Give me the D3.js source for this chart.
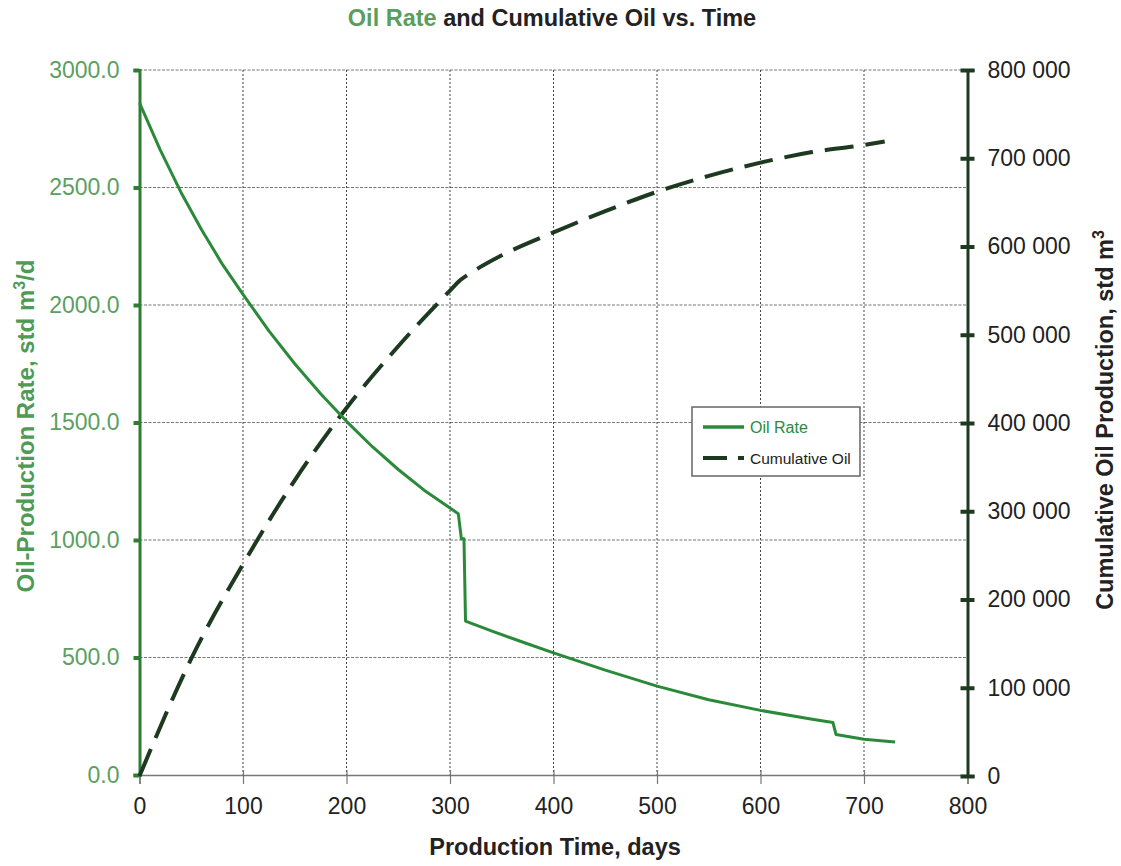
<!DOCTYPE html>
<html>
<head>
<meta charset="utf-8">
<script src="https://cdn.jsdelivr.net/npm/d3@7"></script>
<style>
  body { margin: 0; background: #fff; }
  svg text { font-family: "Liberation Sans", Arial, Helvetica, sans-serif; }
</style>
</head>
<body>
<div id="chart"></div>
<script>
// data
var rateDays = [0, 20, 40, 60, 80, 100, 125, 150, 175, 200, 225, 250, 275, 300, 308, 311, 313.5, 315, 340, 370, 400, 450, 500, 550, 600, 650, 670, 673, 700, 730];
var rateVals = [2860, 2660, 2480, 2320, 2174, 2045, 1890, 1750, 1622, 1505, 1397, 1300, 1212, 1136, 1112, 1005, 1005, 655, 613, 566, 520, 446, 378, 320, 275, 237, 223, 172, 152, 140];

var cumDays = [0, 50, 100, 150, 200, 250, 300, 310, 320, 350, 400, 450, 500, 550, 600, 650, 700, 720];
var cumVals = [0, 133000, 240000, 335000, 417000, 487000, 550000, 562000, 570000, 590000, 616000, 640000, 662000, 680000, 695000, 707000, 715000, 719000];

var xTicks = [0, 100, 200, 300, 400, 500, 600, 700, 800];
var rateTicks = [0, 500, 1000, 1500, 2000, 2500, 3000];
var cumTicks = [0, 100000, 200000, 300000, 400000, 500000, 600000, 700000, 800000];

var W = 1121, H = 866;
var green = '#2a8a3a';
var lightGreen = '#5aa060';
var dark = '#1d3a20';

var svg = d3.select('#chart').append('svg')
  .attr('width', W)
  .attr('height', H);

// scales
var x = d3.scaleLinear().domain([0, 800]).range([139.5, 967.5]);
var yRate = d3.scaleLinear().domain([0, 3000]).range([775, 70]);
var yCum = d3.scaleLinear().domain([0, 800000]).range([776, 70]);

// grid lines
svg.append('g').selectAll('line').data(rateTicks.slice(1))
  .enter().append('line')
  .attr('x1', x(0)).attr('x2', x(800))
  .attr('y1', function(d) { return yRate(d); })
  .attr('y2', function(d) { return yRate(d); })
  .attr('stroke', '#777')
  .attr('stroke-width', 1)
  .attr('stroke-dasharray', '3,1.5');

svg.append('g').selectAll('line').data(xTicks.slice(1, 8))
  .enter().append('line')
  .attr('x1', function(d) { return x(d); })
  .attr('x2', function(d) { return x(d); })
  .attr('y1', yRate(3000)).attr('y2', yRate(0))
  .attr('stroke', '#444')
  .attr('stroke-width', 1)
  .attr('stroke-dasharray', '2,2');

// x axis
var xAxis = svg.append('g')
  .attr('transform', 'translate(0,' + yRate(0) + ')')
  .call(d3.axisBottom(x).tickValues(xTicks).tickSize(9).tickPadding(14).tickFormat(d3.format('d')));
xAxis.select('.domain').attr('stroke', '#777').attr('stroke-width', 1.5);
xAxis.selectAll('.tick line').attr('stroke', '#777').attr('stroke-width', 1.2).attr('y1', -5);
xAxis.selectAll('text').attr('font-size', '23px').attr('fill', '#222');

// left axis
var yAxisL = svg.append('g')
  .attr('transform', 'translate(' + x(0) + ',0)')
  .call(d3.axisLeft(yRate).tickValues(rateTicks).tickSize(6).tickPadding(14).tickFormat(d3.format('.1f')));
yAxisL.select('.domain').attr('stroke', '#2e7d32').attr('stroke-width', 3);
yAxisL.selectAll('.tick line').attr('stroke', '#2e7d32').attr('stroke-width', 4);
yAxisL.selectAll('text').attr('font-size', '23px').attr('fill', lightGreen);

// right axis
var yAxisR = svg.append('g')
  .attr('transform', 'translate(' + x(800) + ',0)')
  .call(d3.axisRight(yCum).tickValues(cumTicks).tickSize(7).tickPadding(13)
    .tickFormat(function(d) { return d3.format(',')(d).replace(/,/g, ' '); }));
yAxisR.select('.domain').attr('stroke', dark).attr('stroke-width', 3);
yAxisR.selectAll('.tick line').attr('stroke', dark).attr('stroke-width', 4).attr('x1', -7);
yAxisR.selectAll('text').attr('font-size', '23px').attr('fill', '#222');

// lines
var rateLine = d3.line()
  .x(function(d, i) { return x(rateDays[i]); })
  .y(function(d) { return yRate(d); });

var cumLine = d3.line()
  .x(function(d, i) { return x(cumDays[i]); })
  .y(function(d) { return yCum(d); })
  .curve(d3.curveMonotoneX);

svg.append('path')
  .attr('d', cumLine(cumVals))
  .attr('fill', 'none')
  .attr('stroke', dark)
  .attr('stroke-width', 4)
  .attr('stroke-dasharray', '29,12');

svg.append('path')
  .attr('d', rateLine(rateVals))
  .attr('fill', 'none')
  .attr('stroke', green)
  .attr('stroke-width', 3)
  .attr('stroke-linejoin', 'round');

// legend
var legend = svg.append('g').attr('transform', 'translate(692,407)');
legend.append('rect')
  .attr('width', 168).attr('height', 69)
  .attr('fill', '#fff')
  .attr('stroke', '#666')
  .attr('stroke-width', 1.5);
legend.append('line')
  .attr('x1', 11).attr('x2', 52).attr('y1', 20).attr('y2', 20)
  .attr('stroke', green).attr('stroke-width', 3.5);
legend.append('text')
  .attr('x', 58).attr('y', 26)
  .attr('font-size', '16px').attr('fill', green)
  .text('Oil Rate');
legend.append('line')
  .attr('x1', 11).attr('x2', 52).attr('y1', 51).attr('y2', 51)
  .attr('stroke', dark).attr('stroke-width', 4)
  .attr('stroke-dasharray', '24,11');
legend.append('text')
  .attr('x', 58).attr('y', 57)
  .attr('font-size', '15.5px').attr('fill', '#222')
  .text('Cumulative Oil');

// title
var title = svg.append('text')
  .attr('x', 552).attr('y', 26)
  .attr('text-anchor', 'middle')
  .attr('font-size', '23.5px')
  .attr('font-weight', 'bold');
title.append('tspan').attr('fill', '#5a9e5e').text('Oil Rate');
title.append('tspan').attr('fill', '#222').text(' and Cumulative Oil vs. Time');

// x label
svg.append('text')
  .attr('x', 555).attr('y', 855)
  .attr('text-anchor', 'middle')
  .attr('font-size', '23.5px')
  .attr('font-weight', 'bold')
  .attr('fill', '#222')
  .text('Production Time, days');

// left y label
var yl = svg.append('text')
  .attr('transform', 'translate(34,426) rotate(-90)')
  .attr('text-anchor', 'middle')
  .attr('font-size', '24px')
  .attr('font-weight', 'bold')
  .attr('fill', '#4f9a55');
yl.append('tspan').text('Oil-Production Rate, std m');
yl.append('tspan').attr('font-size', '16px').attr('dy', -9).text('3');
yl.append('tspan').attr('dy', 9).text('/d');

// right y label
var yr = svg.append('text')
  .attr('transform', 'translate(1113,420) rotate(-90)')
  .attr('text-anchor', 'middle')
  .attr('font-size', '23.5px')
  .attr('font-weight', 'bold')
  .attr('fill', '#222');
yr.append('tspan').text('Cumulative Oil Production, std m');
yr.append('tspan').attr('font-size', '16px').attr('dy', -9).text('3');
</script>
</body>
</html>
